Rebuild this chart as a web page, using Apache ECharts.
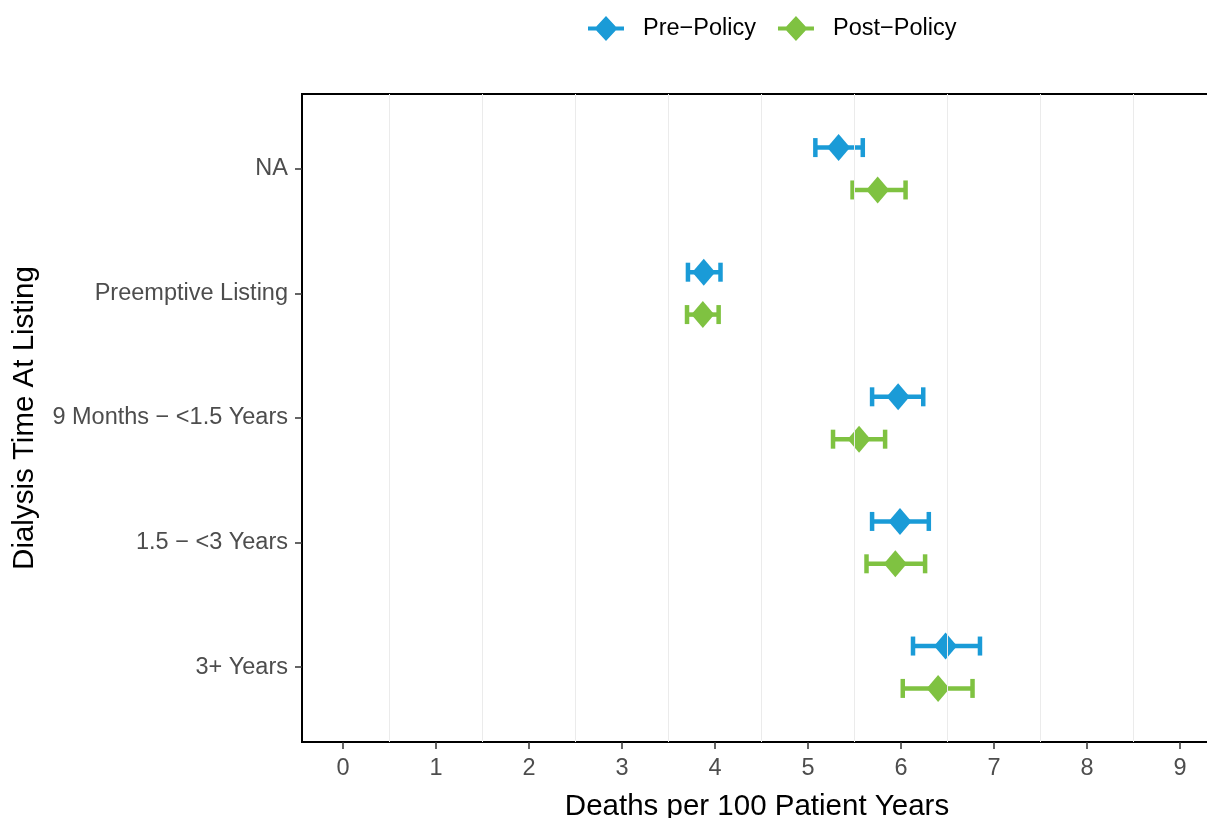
<!DOCTYPE html>
<html>
<head>
<meta charset="utf-8">
<script src="https://cdn.jsdelivr.net/npm/echarts@6/dist/echarts.min.js"></script>
<style>
  html, body { margin: 0; padding: 0; background: #fff; }
  #chart { width: 1207px; height: 818px; }
</style>
</head>
<body>
<div id="chart"></div>
<script>
// categories, top to bottom
const categories = ['NA', 'Preemptive Listing', '9 Months \u2212 <1.5 Years', '1.5 \u2212 <3 Years', '3+ Years']
const seriesNames = ['Pre\u2212Policy', 'Post\u2212Policy']

const prePoint = [5.33, 3.88, 5.97, 5.99, 6.48]
const preLower = [5.08, 3.71, 5.69, 5.69, 6.13]
const preUpper = [5.59, 4.06, 6.24, 6.30, 6.85]

const postPoint = [5.75, 3.87, 5.55, 5.94, 6.40]
const postLower = [5.48, 3.70, 5.27, 5.63, 6.02]
const postUpper = [6.05, 4.04, 5.83, 6.26, 6.77]

const xTicks = [0, 1, 2, 3, 4, 5, 6, 7, 8, 9]
const xGridLines = [0.5, 1.5, 2.5, 3.5, 4.5, 5.5, 6.5, 7.5, 8.5]

const BLUE = '#1A9BD7'
const GREEN = '#7FC241'
const FONT = '"Liberation Sans", Arial, Helvetica, sans-serif'
const dodge = 0.17

// diamond with a bar through it, like the ggplot legend key
const keyIcon = 'path://M0,10.5 L8.3,10.5 L18,0 L27.7,10.5 L36,10.5 L36,14.5 L27.7,14.5 L18,25 L8.3,14.5 L0,14.5 Z'

function errorData (lower, upper, shift) {
  return categories.map((c, i) => [lower[i], upper[i], i + 1 + shift])
}
function pointData (point, shift) {
  return categories.map((c, i) => [point[i], i + 1 + shift])
}

function renderErrorBar (params, api) {
  const y = api.value(2)
  const lo = api.coord([api.value(0), y])
  const hi = api.coord([api.value(1), y])
  const half = 9.5
  const style = { stroke: api.visual('color'), lineWidth: 4.5, fill: null }
  return {
    type: 'group',
    children: [
      { type: 'line', shape: { x1: lo[0], y1: lo[1], x2: hi[0], y2: hi[1] }, style: style },
      { type: 'line', shape: { x1: lo[0], y1: lo[1] - half, x2: lo[0], y2: lo[1] + half }, style: style },
      { type: 'line', shape: { x1: hi[0], y1: hi[1] - half, x2: hi[0], y2: hi[1] + half }, style: style }
    ]
  }
}

let myChart = echarts.init(document.getElementById('chart'))
myChart.setOption({
  animation: false,
  textStyle: { fontFamily: FONT },
  legend: {
    data: [
      { name: seriesNames[0], icon: keyIcon },
      { name: seriesNames[1], icon: keyIcon }
    ],
    left: 588,
    top: 16,
    padding: 0,
    itemWidth: 36,
    itemHeight: 25,
    itemGap: 22,
    textStyle: { color: '#000', fontSize: 23.5, fontFamily: FONT, padding: [0, 0, 0, 14] }
  },
  grid: {
    left: 302,
    right: -5,
    top: 94,
    bottom: 76,
    outerBoundsMode: 'none',
    containLabel: false,
    show: true,
    borderColor: '#000',
    borderWidth: 2,
    backgroundColor: 'transparent'
  },
  xAxis: {
    type: 'value',
    min: -0.44,
    max: 9.345,
    name: 'Deaths per 100 Patient Years',
    nameLocation: 'middle',
    nameGap: 50,
    nameTextStyle: { color: '#000', fontSize: 29.5, fontFamily: FONT },
    axisLine: { show: false, onZero: false },
    axisTick: {
      show: true,
      customValues: xTicks,
      length: 7,
      lineStyle: { color: '#333', width: 1.5 }
    },
    axisLabel: {
      customValues: xTicks,
      color: '#4D4D4D',
      fontSize: 23.5,
      margin: 15,
      fontFamily: FONT
    },
    splitLine: { show: false }
  },
  yAxis: {
    type: 'value',
    min: 0.4,
    max: 5.6,
    inverse: true,
    name: 'Dialysis Time At Listing',
    nameLocation: 'middle',
    nameGap: 262,
    nameRotate: 90,
    nameTextStyle: { color: '#000', fontSize: 29.5, fontFamily: FONT },
    axisLine: { show: false, onZero: false },
    axisTick: {
      show: true,
      customValues: [1, 2, 3, 4, 5],
      length: 7,
      lineStyle: { color: '#333', width: 1.5 }
    },
    axisLabel: {
      customValues: [1, 2, 3, 4, 5],
      color: '#4D4D4D',
      fontSize: 23.5,
      margin: 14,
      fontFamily: FONT,
      formatter: v => categories[Math.round(v) - 1]
    },
    splitLine: { show: false }
  },
  series: [
    {
      // background vertical grid lines
      name: 'grid',
      type: 'scatter',
      data: [],
      z: 1,
      silent: true,
      markLine: {
        silent: true,
        symbol: 'none',
        label: { show: false },
        lineStyle: { color: '#EBEBEB', width: 1, type: 'solid' },
        data: xGridLines.map(v => ({ xAxis: v }))
      }
    },
    {
      name: seriesNames[0],
      type: 'custom',
      renderItem: renderErrorBar,
      itemStyle: { color: BLUE },
      encode: { x: [0, 1], y: 2 },
      data: errorData(preLower, preUpper, -dodge),
      z: 3
    },
    {
      name: seriesNames[1],
      type: 'custom',
      renderItem: renderErrorBar,
      itemStyle: { color: GREEN },
      encode: { x: [0, 1], y: 2 },
      data: errorData(postLower, postUpper, dodge),
      z: 3
    },
    {
      name: seriesNames[0],
      type: 'scatter',
      symbol: 'diamond',
      symbolSize: [23, 27],
      itemStyle: { color: BLUE, opacity: 1 },
      data: pointData(prePoint, -dodge),
      z: 4
    },
    {
      name: seriesNames[1],
      type: 'scatter',
      symbol: 'diamond',
      symbolSize: [23, 27],
      itemStyle: { color: GREEN, opacity: 1 },
      data: pointData(postPoint, dodge),
      z: 4
    }
  ]
})
</script>
</body>
</html>
